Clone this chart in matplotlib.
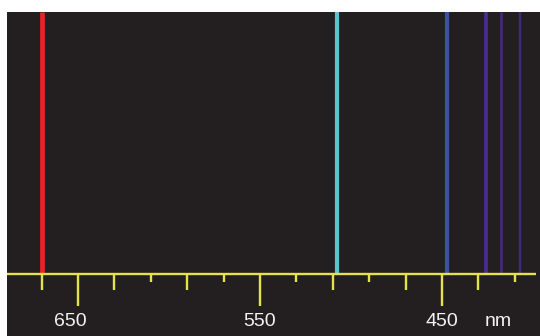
import matplotlib.pyplot as plt

# emission lines (nm) and their colours
line_nm = [670.0, 507.7, 447.3, 425.8, 417.6, 407.1]
line_colors = ["#e8242a", "#5bc4d2", "#3a52a6", "#4a2c92", "#43298a", "#3d2a80"]
line_widths = [3.4, 3.0, 3.0, 2.6, 1.8, 1.6]

# scale ticks (nm) and their kind: L = labelled, M = medium, S = short
tick_nm = [670, 650, 630, 610, 590, 570, 550, 530, 510, 490, 470, 450, 430, 410]
tick_kind = ["M", "L", "M", "S", "M", "S", "L", "S", "M", "S", "M", "L", "M", "S"]
label_nm = [650, 550, 450]
label_text = ["650", "550", "450"]
unit = "nm"

BG = "#231f20"
YELLOW = "#e6e34a"
AXIS_Y = 62
TOP = 324
tick_len = {"L": 32, "M": 16, "S": 8}

fig = plt.figure(figsize=(5.4, 3.36), dpi=100)
ax = fig.add_axes([7 / 540, 0, 533 / 540, 324 / 336])
ax.set_facecolor(BG)
ax.set_xlim(689.0, 396.2)
ax.set_ylim(0, TOP)
ax.axis("off")
ax.add_patch(plt.Rectangle((0, 0), 1, 1, transform=ax.transAxes,
                           color=BG, zorder=0))

# spectral lines
ax.vlines(line_nm, AXIS_Y, TOP, colors=line_colors, linewidths=line_widths, zorder=2)

# baseline and ticks
ax.plot([689.0, 398.4], [AXIS_Y, AXIS_Y], color=YELLOW, lw=1.7, zorder=3,
        solid_capstyle="butt")
for nm, kind in zip(tick_nm, tick_kind):
    ax.plot([nm, nm], [AXIS_Y, AXIS_Y - tick_len[kind]], color=YELLOW, lw=1.7,
            zorder=3, solid_capstyle="butt")

for nm, txt in zip(label_nm, label_text):
    x = nm + 4 if nm == 650 else nm
    ax.text(x, 14, txt, color="#f2f2f2", fontsize=14, family="Liberation Sans",
            ha="center", va="center")
ax.text(419, 14, unit, color="#f2f2f2", fontsize=14, family="Liberation Sans",
        ha="center", va="center")

fig.savefig("out.png", dpi=100, facecolor="white")
